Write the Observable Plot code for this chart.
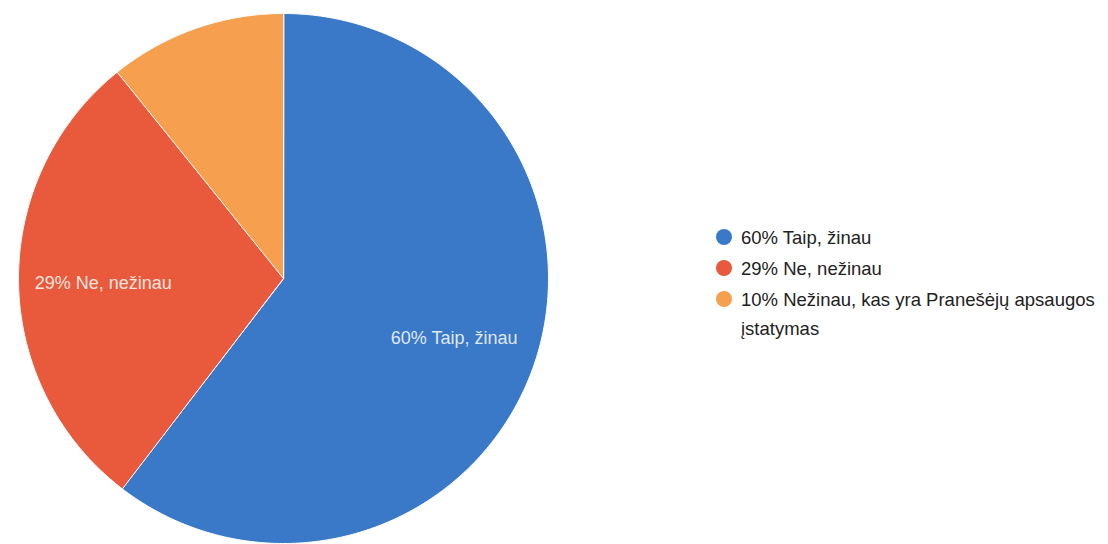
<!DOCTYPE html>
<html>
<head>
<meta charset="utf-8">
<script src="https://cdn.jsdelivr.net/npm/d3@7"></script>
<script src="https://cdn.jsdelivr.net/npm/@observablehq/plot@0.6"></script>
<style>
  body { margin: 0; background: #fff; }
  #wrap { position: relative; width: 1108px; height: 544px; overflow: hidden; }
  #legend { position: absolute; left: 716px; top: 223px; font-family: "Liberation Sans", Arial, sans-serif; font-size: 18.5px; color: #222; }
  .row { display: flex; align-items: flex-start; margin-bottom: 2px; line-height: 29px; }
  .sw { width: 16px; height: 16px; border-radius: 50%; margin-right: 9px; margin-top: 6px; flex: none; }
  .lab { width: 366px; }
</style>
</head>
<body>
<div id="wrap"><div id="legend"></div></div>
<script>
const categories = ["Taip, žinau", "Ne, nežinau", "Nežinau, kas yra Pranešėjų apsaugos įstatymas"];
const shares = [60.4, 28.8, 10.8];
const percentLabels = ["60%", "29%", "10%"];
const colors = ["#3a78c8", "#e95a3c", "#f6a04f"];
const showInside = [true, true, false];

const total = d3.sum(shares);
const slices = [];
let acc = 0;
categories.forEach((c, i) => {
  const a0 = acc / total * 2 * Math.PI;
  acc += shares[i];
  const a1 = acc / total * 2 * Math.PI;
  slices.push({name: c, a0, a1, i});
});

// polygon points for each wedge (center + arc)
const pts = [];
for (const s of slices) {
  pts.push({name: s.name, x: 0, y: 0});
  const n = Math.max(2, Math.ceil((s.a1 - s.a0) / 0.01));
  for (let k = 0; k <= n; k++) {
    const a = s.a0 + (s.a1 - s.a0) * k / n;
    pts.push({name: s.name, x: Math.sin(a), y: Math.cos(a)});
  }
}

const labels = slices.filter(s => showInside[s.i]).map(s => {
  const m = (s.a0 + s.a1) / 2;
  return {x: 0.68 * Math.sin(m), y: 0.68 * Math.cos(m), text: percentLabels[s.i] + " " + s.name};
});

const cx = 283, cy = 278, r = 265;
const chart = Plot.plot({
  width: 1108,
  height: 544,
  margin: 0,
  x: {domain: [-1, 1], range: [cx - r, cx + r], axis: null},
  y: {domain: [-1, 1], range: [cy + r, cy - r], axis: null},
  color: {domain: categories, range: colors},
  style: {fontFamily: "'Liberation Sans', Arial, sans-serif", background: "white"},
  marks: [
    Plot.line(pts, {x: "x", y: "y", z: "name", fill: "name", stroke: "white", strokeWidth: 1, curve: "linear-closed"}),
    Plot.text(labels, {x: "x", y: "y", dy: 2, text: "text", fill: "white", fillOpacity: 0.85, fontSize: 18})
  ]
});
document.getElementById("wrap").prepend(chart);

const legend = document.getElementById("legend");
categories.forEach((c, i) => {
  const row = document.createElement("div");
  row.className = "row";
  row.innerHTML = `<span class="sw" style="background:${colors[i]}"></span><span class="lab">${percentLabels[i]} ${c}</span>`;
  legend.appendChild(row);
});
</script>
</body>
</html>
